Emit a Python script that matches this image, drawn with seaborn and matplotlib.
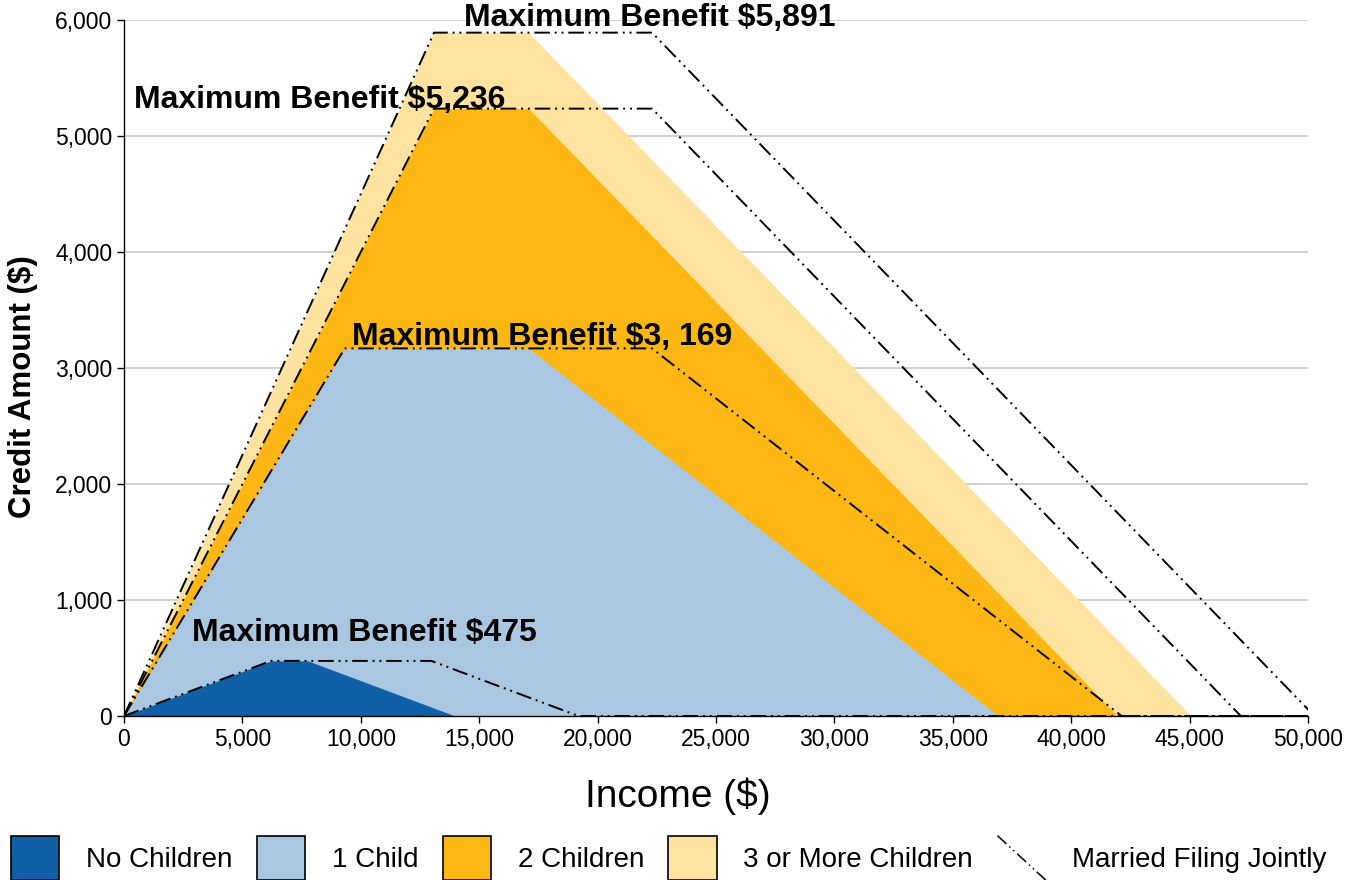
import numpy as np
import pandas as pd
import matplotlib
matplotlib.use("Agg")
import matplotlib.pyplot as plt
import seaborn as sns
from matplotlib.patches import Patch
from matplotlib.lines import Line2D
from matplotlib.legend_handler import HandlerLine2D
from matplotlib.ticker import FuncFormatter, MultipleLocator

# ==================== Data (EITC schedule) ====================
# single filers: income breakpoints and credit amounts
no_child_x = [0, 6210, 7770, 13980, 50000]
no_child_y = [0, 475, 475, 0, 0]
one_child_x = [0, 9320, 17090, 36920, 50000]
one_child_y = [0, 3169, 3169, 0, 0]
two_child_x = [0, 13090, 17090, 41952, 50000]
two_child_y = [0, 5236, 5236, 0, 0]
three_child_x = [0, 13090, 17090, 45060, 50000]
three_child_y = [0, 5891, 5891, 0, 0]

# married filing jointly: phase-out starts later
mfj_no_child_x = [0, 6210, 12980, 19190, 50000]
mfj_one_child_x = [0, 9320, 22300, 42130, 50000]
mfj_two_child_x = [0, 13090, 22300, 47162, 50000]
mfj_three_child_x = [0, 13090, 22300, 50270]
mfj_three_child_y = [0, 5891, 5891, 0]

series_names = ["No Children", "1 Child", "2 Children", "3 or More Children"]
max_labels = ["Maximum Benefit $475", "Maximum Benefit $3, 169",
              "Maximum Benefit $5,236", "Maximum Benefit $5,891"]
label_x = [10130, 17650, 8260, 22200]
label_y = [716, 3267, 5310, 6017]

colors = {
    "No Children": "#0F60A6",
    "1 Child": "#A9C7E0",
    "2 Children": "#FCB715",
    "3 or More Children": "#FEE2A0",
}

# ==================== Style ====================
sns.set_style("white")
plt.rcParams["font.family"] = ["Liberation Sans", "DejaVu Sans"]
plt.rcParams.update({
    "text.color": "black",
    "axes.labelcolor": "black",
    "xtick.color": "black",
    "ytick.color": "black",
})

fig = plt.figure(figsize=(13.45, 8.8), dpi=100)
ax = fig.add_axes([124 / 1345, 1 - 716 / 880, 1184 / 1345, 696 / 880])

ax.yaxis.grid(True, color="#c8c8c8", linewidth=1.2, zorder=0)
ax.set_axisbelow(True)

areas = [
    ("3 or More Children", three_child_x, three_child_y),
    ("2 Children", two_child_x, two_child_y),
    ("1 Child", one_child_x, one_child_y),
    ("No Children", no_child_x, no_child_y),
]
for name, xs, ys in areas:
    ax.fill_between(xs, ys, 0, color=colors[name], linewidth=0, zorder=2)

mfj_dash = (0, (8, 2.5, 1, 2.5, 1, 2.5))
mfj = pd.concat([
    pd.DataFrame({"income": mfj_no_child_x, "credit": no_child_y, "grp": "none"}),
    pd.DataFrame({"income": mfj_one_child_x, "credit": one_child_y, "grp": "one"}),
    pd.DataFrame({"income": mfj_two_child_x, "credit": two_child_y, "grp": "two"}),
    pd.DataFrame({"income": mfj_three_child_x, "credit": mfj_three_child_y, "grp": "three"}),
])
for grp, sub in mfj.groupby("grp", sort=False):
    sns.lineplot(data=sub, x="income", y="credit", ax=ax, color="black",
                 linewidth=1.4, linestyle=mfj_dash, estimator=None, sort=False,
                 zorder=4)

for txt, tx, ty in zip(max_labels, label_x, label_y):
    ax.text(tx, ty, txt, ha="center", va="center", fontsize=23,
            fontweight="bold", zorder=6, clip_on=False)

ax.set_xlim(0, 50000)
ax.set_ylim(0, 6000)
ax.xaxis.set_major_locator(MultipleLocator(5000))
ax.yaxis.set_major_locator(MultipleLocator(1000))
fmt = FuncFormatter(lambda v, p: f"{int(v):,}")
ax.xaxis.set_major_formatter(fmt)
ax.yaxis.set_major_formatter(fmt)
ax.tick_params(axis="both", which="major", direction="out", length=5,
               width=1, color="black", labelsize=16.5, bottom=True, left=True)

for s in ["top", "right"]:
    ax.spines[s].set_visible(False)
for s in ["left", "bottom"]:
    ax.spines[s].set_color("black")
    ax.spines[s].set_linewidth(1)

ax.set_xlabel("Income ($)", fontsize=28)
ax.set_ylabel("Credit Amount ($)", fontsize=22.5, fontweight="bold")
ax.xaxis.set_label_coords(0.468, -0.089)
ax.yaxis.set_label_coords(-0.0726, 0.473)


class DiagonalHandler(HandlerLine2D):
    def create_artists(self, legend, orig_handle, xdescent, ydescent,
                       width, height, fontsize, trans):
        line = Line2D([-xdescent, -xdescent + width],
                      [-ydescent + height, -ydescent])
        self.update_prop(line, orig_handle, legend)
        line.set_transform(trans)
        return [line]


handles = [Patch(facecolor=colors[n], edgecolor="black", linewidth=1.2)
           for n in series_names]
mfj_handle = Line2D([], [], color="black", linewidth=1.1, linestyle=mfj_dash)
handles.append(mfj_handle)
labels = series_names + ["Married Filing Jointly"]

leg = fig.legend(handles, labels, loc="center left",
                 bbox_to_anchor=(0.008, 1 - 858 / 880), ncol=5, frameon=False,
                 prop={"size": 20},
                 handlelength=1.75, handleheight=2.1, handletextpad=0.95,
                 columnspacing=0.88, borderpad=0, borderaxespad=0,
                 handler_map={mfj_handle: DiagonalHandler()})

fig.savefig("out.png", dpi=100)
